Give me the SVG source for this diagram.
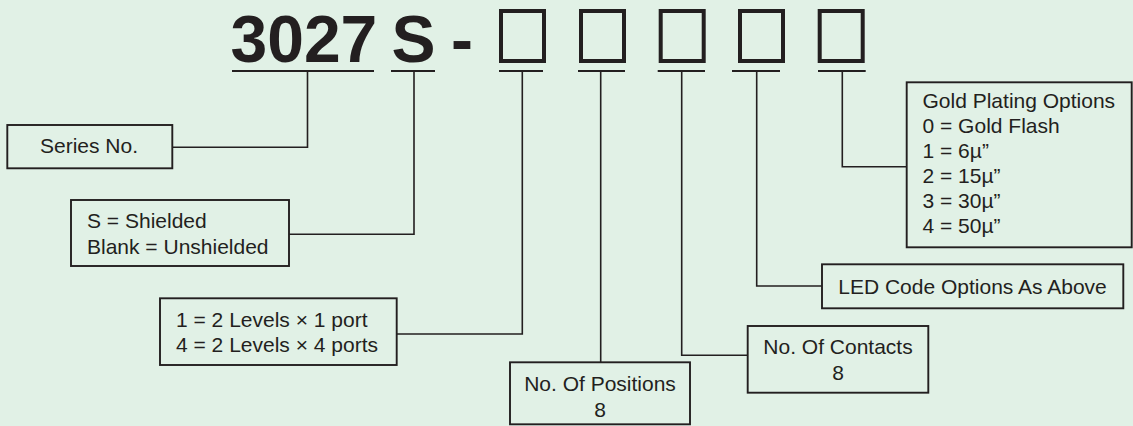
<svg xmlns="http://www.w3.org/2000/svg" width="1133" height="426" viewBox="0 0 1133 426">
<style>
.bg{fill:#e1f1e6}
.box{fill:none;stroke:#231f20;stroke-width:1.9}
.ln{fill:none;stroke:#231f20;stroke-width:1.6}
.ul{fill:none;stroke:#231f20;stroke-width:1.8}
.sq{fill:none;stroke:#231f20;stroke-width:4}
.t{font-family:"Liberation Sans",Arial,sans-serif;font-size:21px;fill:#231f20}
.h{font-family:"Liberation Sans",Arial,sans-serif;font-size:66px;font-weight:bold;fill:#231f20}
.m{text-anchor:middle}
</style>
<rect class="bg" x="0" y="0" width="1133" height="426"/>
<g id="header">
<text class="h" x="230.5" y="62">3027</text>
<text class="h" x="391.5" y="62">S</text>
<text class="h" x="451" y="62" font-size="72">-</text>
<rect class="sq" x="501" y="11" width="43" height="50"/>
<rect class="sq" x="581" y="11" width="43" height="50"/>
<rect class="sq" x="660.7" y="11" width="43" height="50"/>
<rect class="sq" x="740" y="11" width="43" height="50"/>
<rect class="sq" x="819.7" y="11" width="43" height="50"/>
<line class="ul" x1="232" y1="71" x2="374" y2="71"/>
<line class="ul" x1="391" y1="71" x2="435" y2="71"/>
<line class="ul" x1="499" y1="71" x2="543" y2="71"/>
<line class="ul" x1="578" y1="71" x2="625" y2="71"/>
<line class="ul" x1="657.7" y1="71" x2="705" y2="71"/>
<line class="ul" x1="732" y1="71" x2="780" y2="71"/>
<line class="ul" x1="818" y1="71" x2="865.7" y2="71"/>
</g>
<g id="connectors">
<polyline class="ln" points="307.5,71 307.5,147.3 172.3,147.3"/>
<polyline class="ln" points="414,71 414,234.3 289,234.3"/>
<polyline class="ln" points="522.3,71 522.3,334 396.7,334"/>
<polyline class="ln" points="600.7,71 600.7,362.3"/>
<polyline class="ln" points="681.7,71 681.7,355.3 747.7,355.3"/>
<polyline class="ln" points="756.7,71 756.7,286 822,286"/>
<polyline class="ln" points="842.3,71 842.3,166.7 906.7,166.7"/>
</g>
<g id="series">
<rect class="box" x="7.3" y="125" width="165" height="43.3"/>
<text class="t" x="40" y="153.3">Series No.</text>
</g>
<g id="shield">
<rect class="box" x="71" y="200" width="218" height="66"/>
<text class="t" x="87" y="228.3">S = Shielded</text>
<text class="t" x="87" y="254">Blank = Unshielded</text>
</g>
<g id="levels">
<rect class="box" x="160" y="298.3" width="236.7" height="66.7"/>
<text class="t" x="176" y="326.7">1 = 2 Levels × 1 port</text>
<text class="t" x="176" y="351.7">4 = 2 Levels × 4 ports</text>
</g>
<g id="positions">
<rect class="box" x="510" y="362.3" width="180" height="62"/>
<text class="t m" x="600" y="390.7">No. Of Positions</text>
<text class="t m" x="600" y="416.7">8</text>
</g>
<g id="contacts">
<rect class="box" x="747.7" y="326" width="180.6" height="66.7"/>
<text class="t m" x="838" y="354">No. Of Contacts</text>
<text class="t m" x="838" y="380">8</text>
</g>
<g id="led">
<rect class="box" x="822" y="264.3" width="301.3" height="44"/>
<text class="t m" x="972.5" y="294">LED Code Options As Above</text>
</g>
<g id="gold">
<rect class="box" x="906.7" y="82.3" width="225" height="165"/>
<text class="t" x="922.5" y="108.3">Gold Plating Options</text>
<text class="t" x="922.5" y="133.3">0 = Gold Flash</text>
<text class="t" x="922.5" y="158.3">1 = 6µ”</text>
<text class="t" x="922.5" y="183.3">2 = 15µ”</text>
<text class="t" x="922.5" y="208.3">3 = 30µ”</text>
<text class="t" x="922.5" y="233.3">4 = 50µ”</text>
</g>
</svg>
